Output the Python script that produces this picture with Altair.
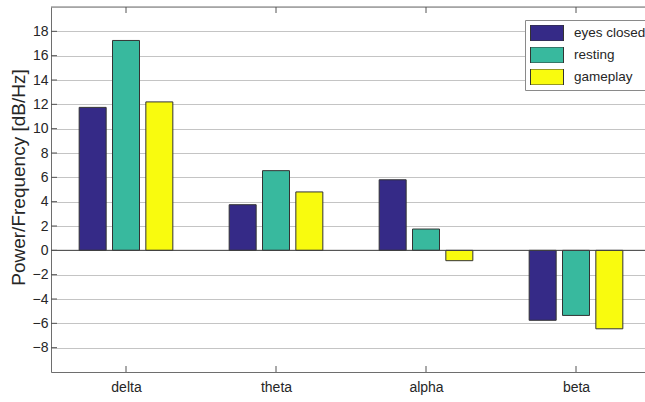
import json
import altair as alt
import pandas as pd

# Frequency bands and recording conditions
bands = ["delta", "theta", "alpha", "beta"]
conditions = ["eyes closed", "resting", "gameplay"]
colors = ["#352A87", "#38B99E", "#F9FB0E"]

# Mean power per band [dB/Hz]
eyes_closed = [11.75, 3.75, 5.8, -5.75]
resting = [17.25, 6.55, 1.75, -5.35]
gameplay = [12.2, 4.8, -0.85, -6.45]

y_ticks = list(range(-8, 19, 2))
x_ticks = [1, 2, 3, 4]

# grouped-bar geometry (in band units)
group_offset = 2 / 9
half_bar = 0.09

rows = []
for ci, (cond, series) in enumerate(zip(conditions, [eyes_closed, resting, gameplay])):
    for bi, (band, v) in enumerate(zip(bands, series)):
        center = bi + 1 + (ci - 1) * group_offset
        rows.append({"band": band, "condition": cond, "value": v,
                     "x0": center - half_bar, "x1": center + half_bar})
df = pd.DataFrame(rows)

W, H = 594, 365
FONT = "Liberation Sans"
TXT = "#262626"
FRAME = "#6e6e6e"

x_scale = alt.Scale(domain=[0.5, 0.5 + W / 150], nice=False, zero=False)
y_scale = alt.Scale(domain=[-10, 20], nice=False, zero=False)

x_axis = alt.Axis(
    values=x_ticks, labelExpr=f"{json.dumps(bands)}[datum.value - 1]",
    ticks=False, grid=False, domainColor=FRAME, labelFontSize=14,
    labelColor=TXT, labelPadding=8, labelFont=FONT, title=None)
y_axis = alt.Axis(
    values=y_ticks, ticks=False, grid=True, gridColor="#c4c4c4",
    domainColor=FRAME, labelFontSize=14, labelColor=TXT, labelPadding=3,
    labelFont=FONT, title="Power/Frequency [dB/Hz]", titleFont=FONT,
    titleFontSize=19, titleFontWeight="normal", titleColor=TXT,
    titleX=-33, titleY=170, titleBaseline="middle")


def X(field):
    return alt.X(field, type="quantitative", scale=x_scale, axis=x_axis)


def Y(field):
    return alt.Y(field, type="quantitative", scale=y_scale, axis=y_axis)


bars = alt.Chart(df).mark_bar(stroke="#333333", strokeWidth=1, opacity=1).encode(
    x=X("x0"),
    x2="x1:Q",
    y=Y("value"),
    y2=alt.datum(0),
    color=alt.Color("condition:N", sort=conditions,
                    scale=alt.Scale(domain=conditions, range=colors),
                    legend=alt.Legend(
                        title=None, orient="none", legendX=474, legendY=13,
                        padding=5, strokeColor="#8a8a8a", fillColor="white",
                        symbolType="M-1,-0.485H1V0.485H-1Z", symbolSize=1089,
                        symbolStrokeColor="#333333", symbolStrokeWidth=1,
                        symbolOpacity=1, labelFontSize=13.5, labelFont=FONT,
                        labelColor=TXT, labelOffset=10, clipHeight=16,
                        rowPadding=6)),
)

zero_line = alt.Chart(pd.DataFrame({"value": [0]})).mark_rule(
    color="#404040", strokeWidth=1).encode(
    y=Y("value"), x=alt.value(0), x2=alt.value(W))

top_frame = alt.Chart(pd.DataFrame({"value": [20]})).mark_rule(
    color=FRAME, strokeWidth=1).encode(
    y=Y("value"), x=alt.value(0), x2=alt.value(W))

y_tick_marks = alt.Chart(pd.DataFrame({"value": y_ticks})).mark_rule(
    color="#555555").encode(y=Y("value"), x=alt.value(0), x2=alt.value(6))

xt = pd.DataFrame({"x0": x_ticks})
x_tick_bottom = alt.Chart(xt).mark_rule(color="#555555").encode(
    x=X("x0"), y=alt.value(H), y2=alt.value(H - 6))
x_tick_top = alt.Chart(xt).mark_rule(color="#555555").encode(
    x=X("x0"), y=alt.value(0), y2=alt.value(6))

chart = alt.layer(
    bars, zero_line, top_frame, y_tick_marks, x_tick_bottom, x_tick_top
).properties(
    width=W, height=H,
    autosize=alt.AutoSizeParams(type="none"),
    padding={"left": 51, "top": 7, "right": 0, "bottom": 30},
).configure_view(stroke=None).configure(font=FONT, background="white")

chart.save("out.html", embed_options={"renderer": "svg", "actions": False})
